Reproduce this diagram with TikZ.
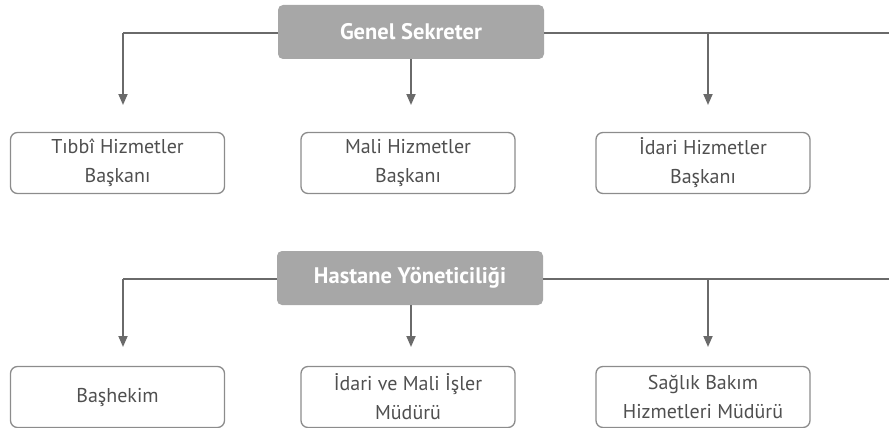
\documentclass[tikz,border=0pt]{standalone}
\usepackage{fontspec}
\setmainfont{PT Sans}
\usetikzlibrary{arrows.meta}
\definecolor{linegray}{HTML}{6A6A6A}
\definecolor{headfill}{HTML}{A7A7A7}
\definecolor{boxline}{HTML}{8C8C8C}
\definecolor{textgray}{HTML}{4F4F4F}
\begin{document}
\begin{tikzpicture}[x=1pt,y=-1pt,
  headbox/.style={draw=none,fill=headfill,rounded corners=5pt,
    minimum width=266pt,minimum height=54pt,text=white,
    font=\fontsize{22.5}{26}\selectfont\bfseries},
  unitbox/.style={draw=boxline,line width=1.3pt,rounded corners=7pt,
    minimum width=214pt,minimum height=61pt,text=textgray,align=center,
    font=\fontsize{20}{29}\selectfont},
  link/.style={draw=linegray,line width=1.8pt},
  feed/.style={link,-{Triangle[length=11pt,width=9pt]}}]
\useasboundingbox (0,0) rectangle (889,428);

% top level
\node[headbox] (gs) at (411,32) {Genel Sekreter};
\node[unitbox] (tib) at (117.5,163) {Tıbbî Hizmetler\\Başkanı};
\node[unitbox] (mal) at (408,163) {Mali Hizmetler\\Başkanı};
\node[unitbox] (ida) at (703,163) {İdari Hizmetler\\Başkanı};
\coordinate (gsL) at (123,33);
\coordinate (gsR) at (708,33);
\coordinate (gsEnd) at (889,33);
\coordinate (gsLa) at (123,105);
\coordinate (gsMa) at (411,105);
\coordinate (gsRa) at (708,105);
\draw[link] (gs.west |- gsL) -- (gsL);
\draw[link] (gs.east |- gsR) -- (gsEnd);
\draw[feed] (gsL) -- (gsLa);
\draw[feed] (gs.south -| gsMa) -- (gsMa);
\draw[feed] (gsR) -- (gsRa);

% hospital management
\node[headbox] (hy) at (410,278) {Hastane Yöneticiliği};
\node[unitbox] (bas) at (117.5,397) {Başhekim};
\node[unitbox] (imi) at (408,397) {İdari ve Mali İşler\\Müdürü};
\node[unitbox] (sbh) at (703,397) {Sağlık Bakım\\Hizmetleri Müdürü};
\coordinate (hyL) at (123,279);
\coordinate (hyR) at (708,279);
\coordinate (hyEnd) at (889,279);
\coordinate (hyLa) at (123,347);
\coordinate (hyMa) at (411,347);
\coordinate (hyRa) at (708,347);
\draw[link] (hy.west |- hyL) -- (hyL);
\draw[link] (hy.east |- hyR) -- (hyEnd);
\draw[feed] (hyL) -- (hyLa);
\draw[feed] (hy.south -| hyMa) -- (hyMa);
\draw[feed] (hyR) -- (hyRa);
\end{tikzpicture}
\end{document}
